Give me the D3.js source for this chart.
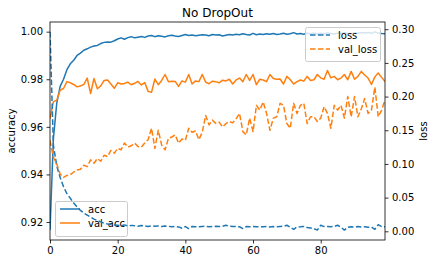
<!DOCTYPE html>
<html>
<head>
<meta charset="utf-8">
<script src="https://cdn.jsdelivr.net/npm/d3@7"></script>
<style>
  body { margin: 0; background: white; }
  text { font-family: "DejaVu Sans", sans-serif; fill: #000; }
</style>
</head>
<body>
<div id="chart"></div>
<script>
// history of the training run, one value per epoch (0..99)
var acc = [
  0.9166, 0.955, 0.970, 0.977, 0.980, 0.984, 0.9865, 0.988, 0.990, 0.991,
  0.9922, 0.9928, 0.9935, 0.9940, 0.9942, 0.9950, 0.9955, 0.9957, 0.9956, 0.9962,
  0.9969, 0.9974, 0.9968, 0.9975, 0.9979, 0.9974, 0.9977, 0.9980, 0.9976, 0.9982,
  0.9984, 0.9979, 0.9983, 0.9981, 0.9978, 0.9983, 0.9985, 0.9982, 0.9980, 0.9984,
  0.9988, 0.9984, 0.9986, 0.9983, 0.9985, 0.9987, 0.9986, 0.9983, 0.9988, 0.9986,
  0.9987, 0.9982, 0.9985, 0.9988, 0.9986, 0.9989, 0.9987, 0.9991, 0.9988, 0.9986,
  0.9993, 0.9987, 0.9990, 0.9988, 0.9991, 0.9989, 0.9992, 0.9988, 0.9990, 0.9993,
  0.9989, 0.9991, 0.9996, 0.9990, 0.9992, 0.9989, 0.9993, 0.9991, 0.9994, 0.9990,
  0.9993, 0.9991, 0.9995, 0.9992, 0.9990, 0.9994, 0.9992, 0.9996, 0.9993, 0.9991,
  0.9995, 0.9993, 0.9996, 0.9994, 0.9997, 0.9993, 0.9999, 0.9994, 0.9992, 0.9991
];

var valAcc = [
  0.9635, 0.9705, 0.9712, 0.9754, 0.9761, 0.9790, 0.9785, 0.9778, 0.9768, 0.9772,
  0.9778, 0.9805, 0.9740, 0.9803, 0.9760, 0.9772, 0.9795, 0.9797, 0.9780, 0.9762,
  0.9785, 0.9780, 0.9782, 0.9788, 0.9777, 0.9783, 0.9791, 0.9776, 0.9786, 0.9749,
  0.9745, 0.9801, 0.9777, 0.9795, 0.9820, 0.9790, 0.9792, 0.9791, 0.9770, 0.9793,
  0.9788, 0.9820, 0.9780, 0.9793, 0.9790, 0.9820, 0.9788, 0.9781, 0.9792, 0.9790,
  0.9785, 0.9796, 0.9793, 0.9800, 0.9780, 0.9797, 0.9805, 0.9790, 0.9820, 0.9795,
  0.9820, 0.9777, 0.9800, 0.9797, 0.9790, 0.9820, 0.9803, 0.9800, 0.9801, 0.9780,
  0.9812, 0.9798, 0.9780, 0.9790, 0.9797, 0.9792, 0.9812, 0.9795, 0.9798, 0.9820,
  0.9806, 0.9800, 0.9837, 0.9806, 0.9812, 0.9798, 0.9805, 0.9820, 0.9798, 0.9833,
  0.9800, 0.9812, 0.9833, 0.9818, 0.9805, 0.9778, 0.9810, 0.9826, 0.9808, 0.9790
];

var loss = [
  0.296, 0.128, 0.097, 0.080, 0.066, 0.056, 0.049, 0.042, 0.036, 0.031,
  0.027, 0.024, 0.021, 0.018, 0.016, 0.014, 0.012, 0.011, 0.010, 0.0095,
  0.0090, 0.0085, 0.0095, 0.0080, 0.0088, 0.0082, 0.0075, 0.0085, 0.0078, 0.0072,
  0.0082, 0.0076, 0.0080, 0.0070, 0.0078, 0.0074, 0.0068, 0.0072, 0.0065, 0.0045,
  0.0070, 0.0040, 0.0072, 0.0066, 0.0068, 0.0072, 0.0074, 0.0068, 0.0070, 0.0074,
  0.0070, 0.0076, 0.0090, 0.0074, 0.0072, 0.0070, 0.0068, 0.0040, 0.0070, 0.0068,
  0.0072, 0.0066, 0.0070, 0.0068, 0.0072, 0.0064, 0.0070, 0.0068, 0.0072, 0.0074,
  0.0090, 0.0060, 0.0030, 0.0064, 0.0066, 0.0072, 0.0055, 0.0048, 0.0040, 0.0018,
  0.0090, 0.0070, 0.0072, 0.0068, 0.0072, 0.0090, 0.0060, 0.0018, 0.0060, 0.0068,
  0.0062, 0.0070, 0.0064, 0.0068, 0.0060, 0.0064, 0.0030, 0.0098, 0.0070, 0.0066
];

var valLoss = [
  0.135, 0.110, 0.100, 0.085, 0.080, 0.083, 0.084, 0.088, 0.091, 0.092,
  0.098, 0.096, 0.106, 0.101, 0.108, 0.104, 0.113, 0.111, 0.120, 0.116,
  0.123, 0.121, 0.131, 0.125, 0.127, 0.131, 0.126, 0.125, 0.131, 0.136,
  0.153, 0.123, 0.150, 0.128, 0.121, 0.138, 0.140, 0.143, 0.131, 0.137,
  0.135, 0.153, 0.147, 0.149, 0.136, 0.147, 0.172, 0.158, 0.165, 0.160,
  0.162, 0.155, 0.160, 0.163, 0.161, 0.167, 0.175, 0.148, 0.143, 0.168,
  0.148, 0.187, 0.180, 0.192, 0.175, 0.150, 0.168, 0.170, 0.190, 0.187,
  0.160, 0.153, 0.190, 0.175, 0.187, 0.190, 0.160, 0.170, 0.170, 0.163,
  0.168, 0.185, 0.175, 0.153, 0.187, 0.180, 0.187, 0.168, 0.200, 0.170,
  0.200, 0.170, 0.182, 0.197, 0.175, 0.180, 0.214, 0.170, 0.180, 0.195
];

var xTicks = [0, 20, 40, 60, 80];
var accTicks = [0.92, 0.94, 0.96, 0.98, 1.00];
var lossTicks = [0.00, 0.05, 0.10, 0.15, 0.20, 0.25, 0.30];

var blue = '#1f77b4';
var orange = '#ff7f0e';

function mkModel() {
  var model = {
    width: 435,
    height: 264,
    left: 50,
    right: 385,
    top: 22,
    bottom: 240
  };

  model.x = d3.scaleLinear()
    .domain([0, acc.length - 1])
    .range([model.left, model.right]);

  // matplotlib style 5% margins around the data
  var aLo = d3.min(acc.concat(valAcc)), aHi = d3.max(acc.concat(valAcc));
  var lLo = d3.min(loss.concat(valLoss)), lHi = d3.max(loss.concat(valLoss));
  var aPad = (aHi - aLo) * 0.05, lPad = (lHi - lLo) * 0.05;

  model.yAcc = d3.scaleLinear()
    .domain([aLo - aPad, aHi + aPad])
    .range([model.bottom, model.top]);

  model.yLoss = d3.scaleLinear()
    .domain([lLo - lPad, lHi + lPad])
    .range([model.bottom, model.top]);

  return model;
}

function drawLines(container, series, model) {
  var lines = container.append('g').attr('clip-path', 'url(#plotClip)');
  series.forEach(function (s) {
    var line = d3.line()
      .x(function (d, i) { return model.x(i); })
      .y(function (d) { return s.y(d); });
    lines.append('path')
      .datum(s.data)
      .attr('d', line)
      .attr('fill', 'none')
      .attr('stroke', s.color)
      .attr('stroke-width', 1.5)
      .attr('stroke-linejoin', 'round')
      .attr('stroke-dasharray', s.dashed ? '5.55,2.4' : null);
  });
}

function drawLegend(container, series, box) {
  var g = container.append('g').attr('transform', 'translate(' + box.x + ',' + box.y + ')');
  g.append('rect')
    .attr('x', 0.5)
    .attr('y', 0.5)
    .attr('width', box.w)
    .attr('height', box.h)
    .attr('rx', 2)
    .attr('fill', 'white')
    .attr('fill-opacity', 0.8)
    .attr('stroke', '#cccccc')
    .attr('stroke-width', 1);

  var items = g.selectAll('.item').data(series).join('g')
    .attr('class', 'item')
    .attr('transform', function (d, i) { return 'translate(0,' + (8 + i * 14) + ')'; });

  items.append('line')
    .attr('x1', 5)
    .attr('x2', 25)
    .attr('stroke', function (d) { return d.color; })
    .attr('stroke-width', 1.5)
    .attr('stroke-dasharray', function (d) { return d.dashed ? '5.55,2.4' : null; });

  items.append('text')
    .attr('x', 33)
    .attr('y', 3.6)
    .style('font-size', '10px')
    .text(function (d) { return d.name; });
}

function main() {
  var model = mkModel();

  var svg = d3.select('#chart').append('svg')
    .attr('width', model.width)
    .attr('height', model.height);

  svg.append('defs').append('clipPath').attr('id', 'plotClip')
    .append('rect')
    .attr('x', model.left)
    .attr('y', model.top)
    .attr('width', model.right - model.left)
    .attr('height', model.bottom - model.top);

  // left axis lines + legend
  var accSeries = [
    { name: 'acc', data: acc, color: blue, dashed: false, y: model.yAcc },
    { name: 'val_acc', data: valAcc, color: orange, dashed: false, y: model.yAcc }
  ];
  var lossSeries = [
    { name: 'loss', data: loss, color: blue, dashed: true, y: model.yLoss },
    { name: 'val_loss', data: valLoss, color: orange, dashed: true, y: model.yLoss }
  ];

  drawLines(svg, accSeries, model);
  drawLegend(svg, accSeries, { x: 55, y: 201, w: 72, h: 35 });
  drawLines(svg, lossSeries, model);
  drawLegend(svg, lossSeries, { x: 305, y: 27, w: 75, h: 34 });

  // axes
  var xAxis = svg.append('g')
    .attr('transform', 'translate(0,' + model.bottom + ')')
    .call(d3.axisBottom(model.x).tickValues(xTicks).tickFormat(d3.format('d')).tickSize(3.5).tickPadding(3.5));

  var leftAxis = svg.append('g')
    .attr('transform', 'translate(' + model.left + ',0)')
    .call(d3.axisLeft(model.yAcc).tickValues(accTicks).tickFormat(d3.format('.2f')).tickSize(3.5).tickPadding(3.5));

  var rightAxis = svg.append('g')
    .attr('transform', 'translate(' + model.right + ',0)')
    .call(d3.axisRight(model.yLoss).tickValues(lossTicks).tickFormat(d3.format('.2f')).tickSize(3.5).tickPadding(3.5));

  [xAxis, leftAxis, rightAxis].forEach(function (a) {
    a.select('.domain').remove();
    a.selectAll('line').attr('stroke', '#000').attr('stroke-width', 0.8);
    a.selectAll('text').style('font-size', '10px').style('font-family', '"DejaVu Sans", sans-serif');
  });

  // frame
  svg.append('rect')
    .attr('x', model.left)
    .attr('y', model.top)
    .attr('width', model.right - model.left)
    .attr('height', model.bottom - model.top)
    .attr('fill', 'none')
    .attr('stroke', '#000')
    .attr('stroke-width', 0.8);

  svg.append('text')
    .attr('x', (model.left + model.right) / 2)
    .attr('y', 16.5)
    .attr('text-anchor', 'middle')
    .style('font-size', '12px')
    .text('No DropOut');

  svg.append('text')
    .attr('transform', 'translate(15,' + (model.top + model.bottom) / 2 + ') rotate(-90)')
    .attr('text-anchor', 'middle')
    .style('font-size', '10px')
    .text('accuracy');

  svg.append('text')
    .attr('transform', 'translate(427,' + (model.top + model.bottom) / 2 + ') rotate(-90)')
    .attr('text-anchor', 'middle')
    .style('font-size', '10px')
    .text('loss');
}

main();
</script>
</body>
</html>
